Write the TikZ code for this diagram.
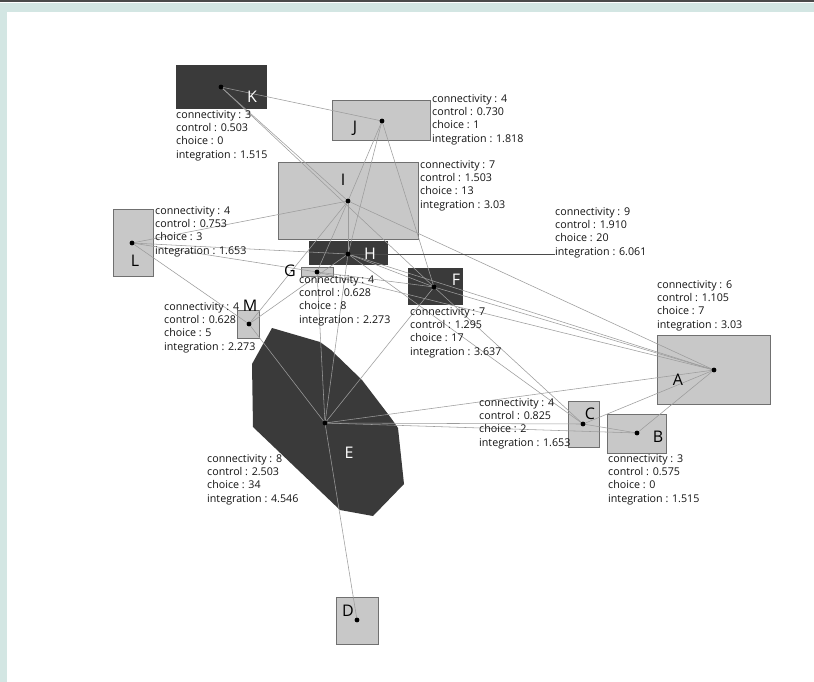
\documentclass[tikz,border=0pt]{standalone}
\usepackage{fontspec}
\setmainfont{Open Sans}
\definecolor{teal}{HTML}{D3E6E3}
\definecolor{topline}{HTML}{4A4A4A}
\definecolor{lightfill}{HTML}{C8C8C8}
\definecolor{darkfill}{HTML}{3A3A3A}
\definecolor{boxline}{HTML}{707070}
\definecolor{linkgray}{HTML}{9C9C9C}
\definecolor{textgray}{HTML}{141414}
\begin{document}
\begin{tikzpicture}[x=1pt,y=-1pt,
  lbox/.style={draw=boxline, fill=lightfill, line width=0.9pt, inner sep=0},
  dbox/.style={draw=darkfill, fill=darkfill, line width=0.9pt, inner sep=0},
  link/.style={draw=linkgray, line width=0.55pt},
  stat/.style={anchor=north west, inner sep=0, align=left, text=textgray, font=\fontsize{10.7}{13.4}\selectfont},
  letter/.style={inner sep=0, font=\fontsize{16}{16}\selectfont},
  wletter/.style={letter, text=white},
  dot/.style={fill=black}]
% frame
\useasboundingbox (0,0) rectangle (814,682);
\fill[white] (0,0) rectangle (814,682);
\fill[teal] (0,3) rectangle (814,12);
\fill[teal] (0,3) rectangle (7,682);
\fill[topline] (0,0) rectangle (814,2.5);
% boxes
\node[dbox, minimum width=90, minimum height=43] (Kbox) at (221,86.5) {};
\node[lbox, minimum width=98, minimum height=40] (Jbox) at (381,120.5) {};
\node[lbox, minimum width=140, minimum height=77] (Ibox) at (348.5,200.5) {};
\node[lbox, minimum width=40, minimum height=67] (Lbox) at (133,242.5) {};
\node[dbox, minimum width=78, minimum height=23] (Hbox) at (348,253) {};
\node[lbox, minimum width=32, minimum height=9] (Gbox) at (317,272) {};
\node[dbox, minimum width=54, minimum height=36] (Fbox) at (435,286.5) {};
\node[lbox, minimum width=22, minimum height=28] (Mbox) at (248,324) {};
\node[lbox, minimum width=113, minimum height=69] (Abox) at (713.5,369.5) {};
\node[lbox, minimum width=31, minimum height=46] (Cbox) at (583.5,424.5) {};
\node[lbox, minimum width=59, minimum height=39] (Bbox) at (636.5,434) {};
\node[lbox, minimum width=42, minimum height=47] (Dbox) at (357,620.5) {};
\fill[darkfill] (272,328) -- (320,342) -- (331,350) -- (362,380) -- (391,418) -- (398,428)
  -- (404,484) -- (373,516) -- (340,510) -- (253,427) -- (252,364) -- cycle;
% dots
\coordinate (K) at (221,87);
\coordinate (J) at (382,121);
\coordinate (I) at (348,201);
\coordinate (L) at (132,243);
\coordinate (H) at (348,254);
\coordinate (G) at (317,272);
\coordinate (F) at (434,287);
\coordinate (M) at (249,324);
\coordinate (E) at (325,423);
\coordinate (A) at (714,370);
\coordinate (C) at (583,424);
\coordinate (B) at (637,433);
\coordinate (D) at (357,620);
\coordinate (Hend) at (555,254);
% links
\draw[link] (K) -- (J);
\draw[link] (K) -- (I);
\draw[link] (K) -- (F);
\draw[link] (J) -- (I);
\draw[link] (J) -- (H);
\draw[link] (J) -- (F);
\draw[link] (L) -- (I);
\draw[link] (L) -- (H);
\draw[link] (L) -- (G);
\draw[link] (L) -- (M);
\draw[link] (G) -- (F);
\draw[link] (G) -- (A);
\draw[link] (I) -- (A);
\draw[link] (I) -- (H);
\draw[link] (I) -- (G);
\draw[link] (I) -- (M);
\draw[link] (H) -- (A);
\draw[link] (H) -- (E);
\draw[link] (H) -- (C);
\draw[link] (H) -- (M);
\draw[link] (H) -- (F);
\draw[link] (F) -- (A);
\draw[link] (F) -- (E);
\draw[link] (F) -- (C);
\draw[link] (E) -- (A);
\draw[link] (E) -- (B);
\draw[link] (E) -- (C);
\draw[link] (E) -- (D);
\draw[link] (E) -- (M);
\draw[link] (E) -- (G);
\draw[link] (A) -- (C);
\draw[link] (A) -- (B);
\draw[link] (B) -- (C);
\draw[draw=topline, line width=0.8pt] (H) -- (Hend);
% dots
\foreach \p in {K,J,I,L,H,G,F,M,E,A,C,B,D} \fill[dot] (\p) circle (2.4pt);
% letters
\node[wletter] (Kl) at (252,97) {K};
\node[letter] (Jl) at (355,128) {J};
\node[letter] (Il) at (343,180) {I};
\node[letter] (Ll) at (135,261) {L};
\node[wletter] (Hl) at (370,254) {H};
\node[letter] (Gl) at (290,271) {G};
\node[wletter] (Fl) at (456,280) {F};
\node[letter] (Ml) at (250,306) {M};
\node[wletter] (El) at (349,453) {E};
\node[letter] (Al) at (678,380) {A};
\node[letter] (Cl) at (590,414) {C};
\node[letter] (Bl) at (658,437) {B};
\node[letter] (Dl) at (348,611) {D};
% stats
\node[stat] (Ks) at (176,110) {connectivity : 3\\control : 0.503\\choice : 0\\integration : 1.515};
\node[stat] (Js) at (432,94) {connectivity : 4\\control : 0.730\\choice : 1\\integration : 1.818};
\node[stat] (Is) at (420,160) {connectivity : 7\\control : 1.503\\choice : 13\\integration : 3.03};
\node[stat] (Ls) at (155,206) {connectivity : 4\\control : 0.753\\choice : 3\\integration : 1.653};
\node[stat] (Hs) at (555,207) {connectivity : 9\\control : 1.910\\choice : 20\\integration : 6.061};
\node[stat] (Gs) at (299,275) {connectivity : 4\\control : 0.628\\choice : 8\\integration : 2.273};
\node[stat] (Fs) at (410,307) {connectivity : 7\\control : 1.295\\choice : 17\\integration : 3.637};
\node[stat] (Ms) at (164,302) {connectivity : 4\\control : 0.628\\choice : 5\\integration : 2.273};
\node[stat] (Es) at (207,454) {connectivity : 8\\control : 2.503\\choice : 34\\integration : 4.546};
\node[stat] (As) at (657,280) {connectivity : 6\\control : 1.105\\choice : 7\\integration : 3.03};
\node[stat] (Cs) at (479,398) {connectivity : 4\\control : 0.825\\choice : 2\\integration : 1.653};
\node[stat] (Bs) at (608,454) {connectivity : 3\\control : 0.575\\choice : 0\\integration : 1.515};
\end{tikzpicture}
\end{document}
